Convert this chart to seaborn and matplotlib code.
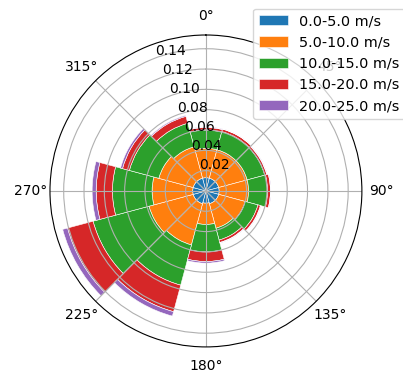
import numpy as np
import matplotlib
matplotlib.use("Agg")
import matplotlib.pyplot as plt
import seaborn as sns

# wind direction bins (deg, clockwise from north)
directions = [0, 30, 60, 90, 120, 150, 180, 210, 240, 270, 300, 330]
speed_edges = [0.0, 5.0, 10.0, 15.0, 20.0, 25.0]

# relative frequency per speed class and direction
freq_0_5 = [0.013, 0.013, 0.013, 0.013, 0.013, 0.013, 0.012, 0.013, 0.013, 0.013, 0.013, 0.013]
freq_5_10 = [0.029, 0.029, 0.029, 0.029, 0.027, 0.025, 0.021, 0.042, 0.045, 0.040, 0.035, 0.032]
freq_10_15 = [0.018, 0.0185, 0.018, 0.0187, 0.013, 0.012, 0.027, 0.041, 0.057, 0.039, 0.030, 0.024]
freq_15_20 = [0.0025, 0.0025, 0.002, 0.0028, 0.0025, 0.0025, 0.0095, 0.027, 0.026, 0.016, 0.007, 0.007]
freq_20_25 = [0.0005, 0.0003, 0.0005, 0.0005, 0.0005, 0.0005, 0.0015, 0.0045, 0.005, 0.004, 0.002, 0.001]

series = [freq_0_5, freq_5_10, freq_10_15, freq_15_20, freq_20_25]
labels = [f"{lo:.1f}-{hi:.1f} m/s" for lo, hi in zip(speed_edges[:-1], speed_edges[1:])]
colors = sns.color_palette("tab10", len(series))

fig = plt.figure(figsize=(4.03, 3.82), dpi=100)
ax = fig.add_axes([0.124, 0.0916, 0.774, 0.817], projection="polar")
ax.set_theta_zero_location("N")
ax.set_theta_direction(-1)

theta = np.deg2rad(directions)
width = np.deg2rad(30)
bottom = np.zeros(len(directions))
for vals, lab, c in zip(series, labels, colors):
    ax.bar(theta, vals, width=width, bottom=bottom, color=c,
           edgecolor="white", linewidth=0.4, label=lab)
    bottom += np.array(vals)

ax.set_ylim(0, 0.1535)
ax.set_yticks([0.02, 0.04, 0.06, 0.08, 0.10, 0.12, 0.14])
ax.set_rlabel_position(-21)

fig.legend(loc="upper left", bbox_to_anchor=(253 / 403, 1 - 8.5 / 382),
           bbox_transform=fig.transFigure, borderaxespad=0, fontsize=10.4)

fig.savefig("out.png", dpi=100)
